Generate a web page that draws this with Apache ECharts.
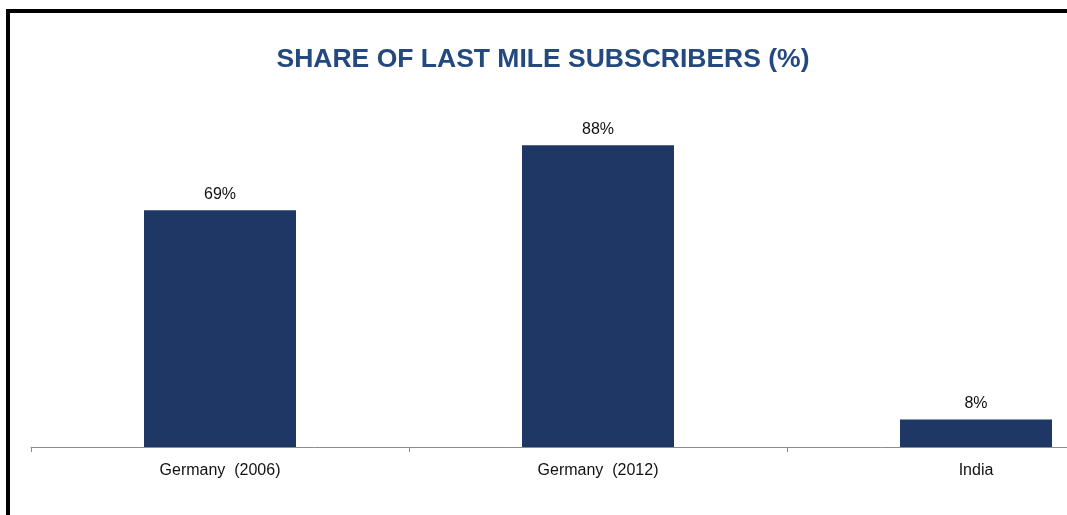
<!DOCTYPE html>
<html>
<head>
<meta charset="utf-8">
<script src="https://cdn.jsdelivr.net/npm/echarts@6/dist/echarts.min.js"></script>
<style>
  html, body { margin: 0; padding: 0; background: #fff; }
  #frame { width: 1067px; height: 515px; overflow: hidden; position: relative; }
  /* the canvas is wider than the frame: the last category runs off the right edge */
  #chart { width: 1200px; height: 515px; }
</style>
</head>
<body>
<div id="frame"><div id="chart"></div></div>
<script>
const categories = ['Germany  (2006)', 'Germany  (2012)', 'India'];
const shares = [69, 88, 8];
const titleText = 'SHARE OF LAST MILE SUBSCRIBERS (%)';

const chart = echarts.init(document.getElementById('chart'), null, { renderer: 'canvas' });

chart.setOption({
  backgroundColor: '#ffffff',
  animation: false,
  title: {
    text: titleText,
    left: 538,
    top: 41,
    textAlign: 'center',
    textStyle: {
      fontFamily: 'Liberation Sans, Arial, sans-serif',
      fontWeight: 'bold',
      fontSize: 26.5,
      color: '#24497f'
    }
  },
  graphic: [
    { type: 'rect', shape: { x: 6, y: 9, width: 1194, height: 4 }, style: { fill: '#000' } },
    { type: 'rect', shape: { x: 6, y: 9, width: 4, height: 506 }, style: { fill: '#000' } }
  ],
  grid: { left: 31, width: 1134, top: 104, height: 343 },
  xAxis: {
    type: 'category',
    data: categories,
    axisLine: { lineStyle: { color: '#8c8c8c', width: 1 } },
    axisTick: { show: true, length: 5, lineStyle: { color: '#8c8c8c' } },
    axisLabel: {
      margin: 16,
      fontFamily: 'Liberation Sans, Arial, sans-serif',
      fontSize: 16,
      color: '#111'
    }
  },
  yAxis: {
    type: 'value',
    min: 0,
    max: 100,
    show: false
  },
  series: [{
    type: 'bar',
    data: shares,
    barWidth: 152,
    itemStyle: { color: '#1f3764' },
    label: {
      show: true,
      position: 'top',
      distance: 8,
      formatter: '{c}%',
      fontFamily: 'Liberation Sans, Arial, sans-serif',
      fontSize: 16,
      color: '#111'
    }
  }]
});
</script>
</body>
</html>
